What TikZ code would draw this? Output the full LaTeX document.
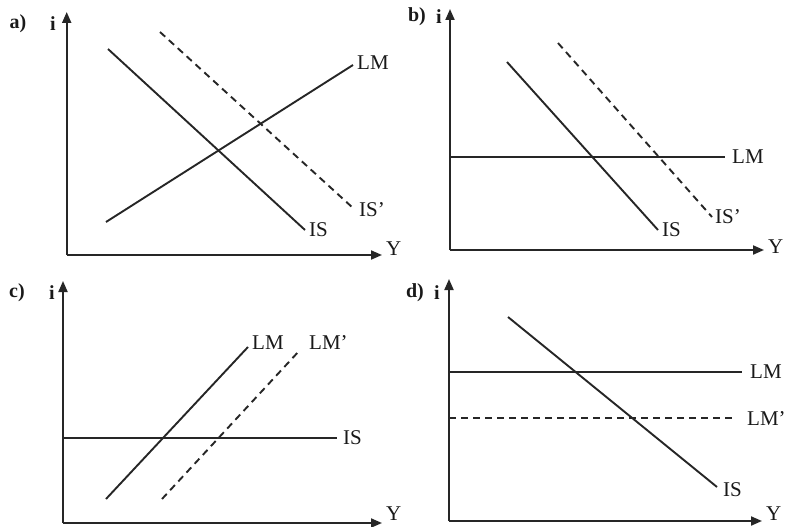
\documentclass[tikz,border=0pt]{standalone}
\usepackage{fontspec}
\setmainfont{Liberation Serif}
\usetikzlibrary{arrows.meta}
\begin{document}
\begin{tikzpicture}[x=1pt,y=-1pt,
  ln/.style={line width=1.9pt,draw=black!85},
  dsh/.style={ln,dash pattern=on 7pt off 5pt},
  axis/.style={line width=2pt,draw=black!85,-{Triangle[length=11pt,width=9pt]}},
  lbl/.style={font=\fontsize{21}{21}\selectfont,text=black!90,inner sep=0pt,anchor=west},
  plab/.style={font=\fontsize{20}{20}\selectfont\bfseries,text=black!90,inner sep=0pt}]
\useasboundingbox (0,0) rectangle (788,527);
% ---------- a)
\coordinate (aO) at (66.7,255);
\coordinate (aT) at (66.7,12);
\coordinate (aR) at (382,255);
\draw[axis] (aO) -- (aT);
\draw[axis] (aO) -- (aR);
\node[plab] (aLab) at (18,24) {a)};
\node[plab] (ai) at (53,24) {i};
\node[lbl] (aY) at (386,249) {Y};
\coordinate (aIS1) at (108,49); \coordinate (aIS2) at (305,230);
\draw[ln] (aIS1) -- (aIS2);
\node[lbl] (aISl) at (309,230) {IS};
\coordinate (aISp1) at (160,32); \coordinate (aISp2) at (353,208);
\draw[dsh] (aISp1) -- (aISp2);
\node[lbl] (aISpl) at (359,210) {IS'};
\coordinate (aLM1) at (106,222); \coordinate (aLM2) at (353,65);
\draw[ln] (aLM1) -- (aLM2);
\node[lbl] (aLMl) at (357,63) {LM};
% ---------- b)
\coordinate (bO) at (450,250);
\coordinate (bT) at (450,9);
\coordinate (bR) at (764,250);
\draw[axis] (bO) -- (bT);
\draw[axis] (bO) -- (bR);
\node[plab] (bLab) at (417,17) {b)};
\node[plab] (bi) at (439,17) {i};
\node[lbl] (bY) at (768,247) {Y};
\coordinate (bIS1) at (507,62); \coordinate (bIS2) at (658,230);
\draw[ln] (bIS1) -- (bIS2);
\node[lbl] (bISl) at (662,230) {IS};
\coordinate (bISp1) at (558,43); \coordinate (bISp2) at (712,217);
\draw[dsh] (bISp1) -- (bISp2);
\node[lbl] (bISpl) at (715,217) {IS'};
\coordinate (bLM1) at (450,157); \coordinate (bLM2) at (725,157);
\draw[ln] (bLM1) -- (bLM2);
\node[lbl] (bLMl) at (732,157) {LM};
% ---------- c)
\coordinate (cO) at (63,523);
\coordinate (cT) at (63,281);
\coordinate (cR) at (382,523);
\draw[axis] (cO) -- (cT);
\draw[axis] (cO) -- (cR);
\node[plab] (cLab) at (17,293) {c)};
\node[plab] (ci) at (52,293) {i};
\node[lbl] (cY) at (386,514) {Y};
\coordinate (cLM1) at (106,499); \coordinate (cLM2) at (248,347);
\draw[ln] (cLM1) -- (cLM2);
\node[lbl] (cLMl) at (252,343) {LM};
\coordinate (cLMp1) at (162,499); \coordinate (cLMp2) at (300,350);
\draw[dsh] (cLMp1) -- (cLMp2);
\node[lbl] (cLMpl) at (309,343) {LM'};
\coordinate (cIS1) at (63,438); \coordinate (cIS2) at (337,438);
\draw[ln] (cIS1) -- (cIS2);
\node[lbl] (cISl) at (343,438) {IS};
% ---------- d)
\coordinate (dO) at (449,521);
\coordinate (dT) at (449,279);
\coordinate (dR) at (762,521);
\draw[axis] (dO) -- (dT);
\draw[axis] (dO) -- (dR);
\node[plab] (dLab) at (415,293) {d)};
\node[plab] (di) at (437,293) {i};
\node[lbl] (dY) at (766,514) {Y};
\coordinate (dIS1) at (508,317); \coordinate (dIS2) at (717,487);
\draw[ln] (dIS1) -- (dIS2);
\node[lbl] (dISl) at (723,490) {IS};
\coordinate (dLM1) at (449,372); \coordinate (dLM2) at (742,372);
\draw[ln] (dLM1) -- (dLM2);
\node[lbl] (dLMl) at (750,372) {LM};
\coordinate (dLMp1) at (449,418); \coordinate (dLMp2) at (735,418);
\draw[dsh] (dLMp1) -- (dLMp2);
\node[lbl] (dLMpl) at (747,419) {LM'};
\end{tikzpicture}
\end{document}
